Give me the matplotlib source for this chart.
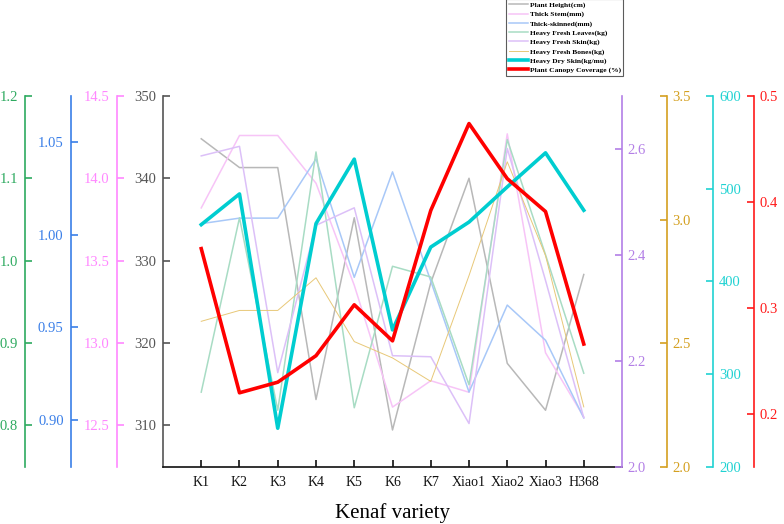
# -*- coding: utf-8 -*-
# Gráfico com vários eixos Y para as variedades de kenaf

import numpy as np
from matplotlib import pyplot as plt
from matplotlib.ticker import FormatStrFormatter

plt.rcParams['font.family'] = ['Liberation Serif', 'DejaVu Serif']

## Dados
variedades = ['K1', 'K2', 'K3', 'K4', 'K5', 'K6', 'K7', 'Xiao1', 'Xiao2', 'Xiao3', 'H368']
plant_height = [344.8, 341.3, 341.3, 313.1, 335.2, 309.4, 327.3, 340.0, 317.5, 311.8, 328.3]
thick_stem = [13.82, 14.26, 14.26, 13.97, 13.35, 12.61, 12.77, 12.70, 14.27, 12.94, 12.55]
thick_skinned = [1.006, 1.009, 1.009, 1.041, 0.977, 1.034, 0.975, 0.915, 0.962, 0.943, 0.901]
fresh_leaves = [0.840, 1.052, 0.818, 1.132, 0.821, 0.993, 0.980, 0.849, 1.147, 1.007, 0.863]
fresh_skin = [2.587, 2.605, 2.178, 2.456, 2.489, 2.210, 2.208, 2.082, 2.601, 2.352, 2.093]
fresh_bones = [2.589, 2.633, 2.633, 2.765, 2.507, 2.441, 2.346, 2.774, 3.234, 2.855, 2.243]
dry_skin = [461.3, 494.4, 241.8, 462.4, 531.9, 347.8, 437.1, 464.1, 502.0, 538.7, 476.8]
canopy = [0.356, 0.220, 0.230, 0.255, 0.303, 0.269, 0.392, 0.474, 0.422, 0.391, 0.266]

x = np.arange(1, len(variedades) + 1)

fig = plt.figure(figsize=(7.84, 5.24), dpi=100)
ax = fig.add_axes([0.2079, 0.1088, 0.5855, 0.7080])

# (dados, rótulo, cor da linha, espessura, limites, ticks, formato, cor do eixo, lado, posição)
series = [
    (plant_height, 'Plant Height(cm)', '#b8b8b8', 1.1, (304.9, 350), np.arange(310, 351, 10), '%d', '#555555', 'left', 0.0),
    (thick_stem, 'Thick Stem(mm)', '#f7c4f7', 1.1, (12.246, 14.5), np.arange(12.5, 14.51, 0.5), '%.1f', '#ff88ff', 'left', -0.1009),
    (thick_skinned, 'Thick-skinned(mm)', '#a8c8f8', 1.1, (0.8745, 1.075), np.arange(0.90, 1.051, 0.05), '%.2f', '#3a7fe8', 'left', -0.2011),
    (fresh_leaves, 'Heavy Fresh Leaves(kg)', '#a8dcc4', 1.1, (0.749, 1.2), np.arange(0.8, 1.21, 0.1), '%.1f', '#2eaa60', 'left', -0.3007),
    (fresh_skin, 'Heavy Fresh Skin(kg)', '#dcc0f8', 1.1, (2.0, 2.7), np.arange(2.0, 2.61, 0.2), '%.1f', '#b37fe6', 'right', 1.0),
    (fresh_bones, 'Heavy Fresh Bones(kg)', '#e8c878', 0.7, (2.0, 3.5), np.arange(2.0, 3.51, 0.5), '%.1f', '#d4a020', 'right', 1.0974),
    (dry_skin, 'Heavy Dry Skin(kg/mu)', '#00cdd0', 2.6, (200, 600), np.arange(200, 601, 100), '%d', '#20d2d2', 'right', 1.199),
    (canopy, 'Plant Canopy Coverage (%)', '#ff0000', 2.6, (0.15, 0.5), np.arange(0.2, 0.51, 0.1), '%.1f', '#ff1a1a', 'right', 1.2876),
]

handles = []
for i, (dados, rotulo, cor, lw, lim, ticks, fmt, cor_eixo, lado, pos) in enumerate(series):
    a = ax if i == 0 else ax.twinx()
    for s in a.spines.values():
        s.set_visible(False)
    a.spines[lado].set_visible(True)
    a.spines[lado].set_position(('axes', pos))
    a.spines[lado].set_color(cor_eixo)
    a.spines[lado].set_linewidth(1.2)
    a.yaxis.set_ticks_position(lado)
    a.yaxis.set_label_position(lado)
    a.set_ylim(*lim)
    a.set_yticks(ticks)
    a.yaxis.set_major_formatter(FormatStrFormatter(fmt))
    a.tick_params(axis='y', direction='in', length=5, width=1.2, colors=cor_eixo,
                  labelsize=10.5, pad=5 if lado == 'left' else 4)
    h, = a.plot(x, dados, color=cor, lw=lw, label=rotulo)
    handles.append(h)

# eixo x
ax.spines['bottom'].set_visible(True)
ax.spines['bottom'].set_color('#111111')
ax.spines['bottom'].set_linewidth(1.2)
ax.set_xlim(0, 12)
ax.set_xticks(x)
ax.set_xticklabels(variedades)
ax.tick_params(axis='x', direction='in', length=5, width=1.2, labelsize=10, colors='#111111', pad=6.5)
ax.set_xlabel('Kenaf variety', fontsize=15, labelpad=10)

# legenda
leg = fig.legend(handles=handles, loc='upper left', bbox_to_anchor=(0.646, 1.002),
                 prop={'family': 'Liberation Serif', 'weight': 'bold', 'size': 5.4},
                 frameon=True, fancybox=False, handlelength=2.5, handletextpad=0.25,
                 labelspacing=0.36, borderpad=0.35, borderaxespad=0.0)
leg.get_frame().set_edgecolor('#333333')
leg.get_frame().set_linewidth(0.8)

plt.savefig('out.png', dpi=100)
